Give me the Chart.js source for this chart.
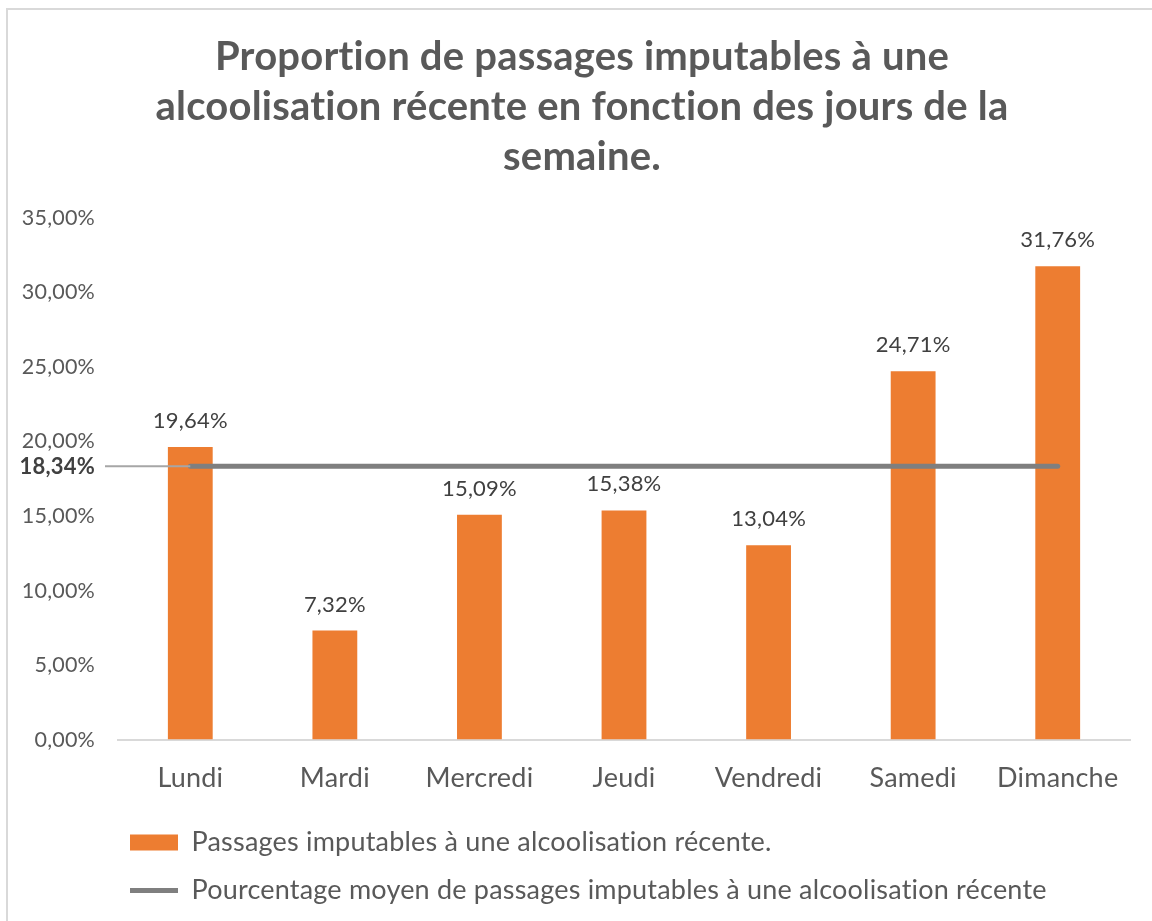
<!DOCTYPE html>
<html>
<head>
<meta charset="utf-8">
<script src="https://cdn.jsdelivr.net/npm/chart.js@4.4.1/dist/chart.umd.min.js"></script>
<style>
  body { margin: 0; background: #fff; overflow: hidden; }
  #wrap { position: relative; width: 1152px; height: 921px; }
  #cadre { position: absolute; left: 6px; top: 8px; width: 1200px; height: 1000px;
           border: 2px solid #d9d9d9; pointer-events: none; }
</style>
</head>
<body>
<div id="wrap">
  <canvas id="chart"></canvas>
  <div id="cadre"></div>
</div>
<script>
// donnees
var jours = ['Lundi', 'Mardi', 'Mercredi', 'Jeudi', 'Vendredi', 'Samedi', 'Dimanche'];
var proportions = [19.64, 7.32, 15.09, 15.38, 13.04, 24.71, 31.76];
var moyenne = [18.34, 18.34, 18.34, 18.34, 18.34, 18.34, 18.34];
var titre = ['Proportion de passages imputables à une',
             'alcoolisation récente en fonction des jours de la',
             'semaine.'];
var legendeBarres = 'Passages imputables à une alcoolisation récente.';
var legendeLigne = 'Pourcentage moyen de passages imputables à une alcoolisation récente';

var police = 'Lato, Carlito, Calibri, sans-serif';
var gris = '#595959';

function pct(v) {
  return v.toFixed(2).replace('.', ',') + '%';
}

// etiquettes au dessus des barres + repere de la moyenne a gauche
var etiquettes = {
  id: 'etiquettes',
  beforeDraw: function(chart) {
    // petit espacement pour eviter les ligatures "ti" de Lato
    chart.ctx.letterSpacing = '0.2px';
  },
  afterLayout: function(chart) {
    chart.titleBlock.left += 13;
    chart.titleBlock.right += 13;
    chart.legend.left -= 9;
  },
  afterDatasetsDraw: function(chart) {
    var ctx = chart.ctx;
    var meta = chart.getDatasetMeta(0);
    ctx.save();
    ctx.font = '22px ' + police;
    ctx.fillStyle = '#404040';
    ctx.textAlign = 'center';
    ctx.textBaseline = 'middle';
    meta.data.forEach(function(bar, i) {
      ctx.fillText(pct(proportions[i]), bar.x, bar.y - 26);
    });

    var y = chart.scales.y.getPixelForValue(moyenne[0]);
    var x0 = chart.getDatasetMeta(1).data[0].x;
    ctx.strokeStyle = '#a6a6a6';
    ctx.lineWidth = 2;
    ctx.beginPath();
    ctx.moveTo(105, y);
    ctx.lineTo(x0, y);
    ctx.stroke();

    ctx.font = 'bold 22px ' + police;
    ctx.fillStyle = '#404040';
    ctx.textAlign = 'right';
    ctx.fillText(pct(moyenne[0]), 95, y + 1);
    ctx.restore();
  }
};

new Chart(document.getElementById('chart'), {
  data: {
    labels: jours,
    datasets: [{
      type: 'bar',
      label: legendeBarres,
      data: proportions,
      backgroundColor: '#ed7d31',
      borderWidth: 0,
      barPercentage: 0.62,
      categoryPercentage: 0.5,
      pointStyle: 'rect',
      order: 1
    }, {
      type: 'line',
      label: legendeLigne,
      data: moyenne,
      borderColor: '#7f7f7f',
      backgroundColor: '#7f7f7f',
      borderWidth: 5,
      borderCapStyle: 'round',
      pointRadius: 0,
      pointStyle: 'line',
      order: 0
    }]
  },
  options: {
    responsive: true,
    maintainAspectRatio: false,
    animation: false,
    layout: { padding: { left: 8, right: 22, top: 22, bottom: 7 } },
    plugins: {
      tooltip: { enabled: false },
      title: {
        display: true,
        text: titre,
        color: gris,
        font: { family: police, size: 40, weight: 'bold', lineHeight: 1.25 },
        padding: { top: 10, bottom: 36 }
      },
      legend: {
        position: 'bottom',
        align: 'start',
        fullSize: false,
        labels: {
          usePointStyle: true,
          pointStyleWidth: 48,
          boxHeight: 16,
          color: gris,
          font: { family: police, size: 27 },
          padding: 21,
          sort: function(a, b) { return a.datasetIndex - b.datasetIndex; }
        }
      }
    },
    scales: {
      x: {
        grid: { display: false },
        border: { display: true, color: '#d9d9d9', width: 2 },
        ticks: { color: gris, font: { family: police, size: 27 }, padding: 14 }
      },
      y: {
        min: 0,
        max: 35,
        afterFit: function(s) { s.width = 110; },
        grid: { display: false, drawTicks: false },
        border: { display: false },
        ticks: {
          stepSize: 5,
          color: gris,
          font: { family: police, size: 21.5 },
          padding: 23,
          callback: function(v) { return pct(v); }
        }
      }
    }
  },
  plugins: [etiquettes]
});
</script>
</body>
</html>
